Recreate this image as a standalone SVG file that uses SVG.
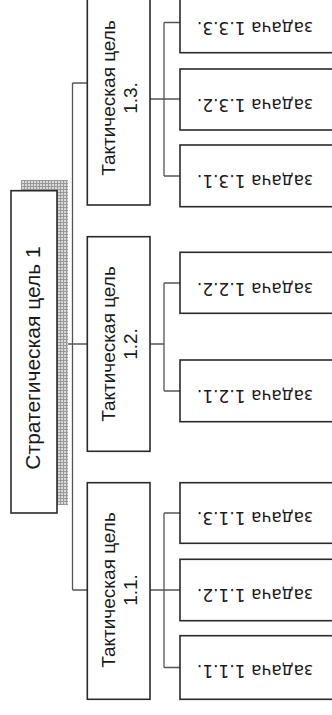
<svg xmlns="http://www.w3.org/2000/svg" width="332" height="715" viewBox="0 0 332 715">
<style>
.box{fill:#fff;stroke:#2a2a2a;stroke-width:1.6}
.con{fill:none;stroke:#555;stroke-width:1.3}
.t1{font-family:"Liberation Sans",Arial,sans-serif;fill:#1a1a1a;text-anchor:middle}
.t2{font-family:"DejaVu Sans",Verdana,sans-serif;font-size:17px;fill:#1a1a1a;text-anchor:middle}
</style>
<defs>
<pattern id="hatch" width="3" height="3" patternUnits="userSpaceOnUse">
<rect width="3" height="3" fill="#dadada"/>
<path d="M0 0.5H3M0.5 0V3" stroke="#999" stroke-width="1"/>
</pattern>
</defs>
<g id="connectors">
<path class="con" d="M57 344H87M72.5 83V590M72.5 83H87M72.5 590H87"/>
<path class="con" d="M150 99H164M164 22.5V176M164 22.5H180M164 99H180M164 176H180"/>
<path class="con" d="M150 344H164M164 283V391M164 283H180M164 391H180"/>
<path class="con" d="M150 590H180M164 513V667.5M164 513H180M164 667.5H180"/>
</g>
<g id="strategic">
<rect x="21" y="180" width="47" height="325" fill="url(#hatch)"/>
<rect class="box" x="11" y="190.7" width="46" height="322.3"/>
<text class="t1" font-size="21" transform="translate(40 358) rotate(-90)">Стратегическая цель 1</text>
</g>
<g id="tac13">
<rect class="box" x="87.3" y="-9" width="62.7" height="214"/>
<text class="t1" font-size="19" transform="translate(115 98) rotate(-90)">Тактическая цель</text>
<text class="t1" font-size="19" transform="translate(137 98) rotate(-90)">1.3.</text>
</g>
<g id="tac12">
<rect class="box" x="87.3" y="236.7" width="62.7" height="214.6"/>
<text class="t1" font-size="19" transform="translate(115 344) rotate(-90)">Тактическая цель</text>
<text class="t1" font-size="19" transform="translate(137 344) rotate(-90)">1.2.</text>
</g>
<g id="tac11">
<rect class="box" x="87.3" y="482.7" width="62.7" height="216.6"/>
<text class="t1" font-size="19" transform="translate(115 590) rotate(-90)">Тактическая цель</text>
<text class="t1" font-size="19" transform="translate(137 590) rotate(-90)">1.1.</text>
</g>
<g id="task133">
<rect class="box" x="180" y="-8" width="160" height="60.7"/>
<text class="t2" transform="translate(255 21.5) rotate(180)">задача 1.3.3.</text>
</g>
<g id="task132">
<rect class="box" x="180" y="69" width="160" height="61"/>
<text class="t2" transform="translate(255 98.5) rotate(180)">задача 1.3.2.</text>
</g>
<g id="task131">
<rect class="box" x="180" y="145" width="160" height="61.7"/>
<text class="t2" transform="translate(255 175) rotate(180)">задача 1.3.1.</text>
</g>
<g id="task122">
<rect class="box" x="180" y="252.3" width="160" height="61"/>
<text class="t2" transform="translate(255 283) rotate(180)">задача 1.2.2.</text>
</g>
<g id="task121">
<rect class="box" x="180" y="360" width="160" height="61.7"/>
<text class="t2" transform="translate(255 390) rotate(180)">задача 1.2.1.</text>
</g>
<g id="task113">
<rect class="box" x="180" y="482.7" width="160" height="60.6"/>
<text class="t2" transform="translate(255 512) rotate(180)">задача 1.1.3.</text>
</g>
<g id="task112">
<rect class="box" x="180" y="559.3" width="160" height="61.4"/>
<text class="t2" transform="translate(255 589) rotate(180)">задача 1.1.2.</text>
</g>
<g id="task111">
<rect class="box" x="180" y="635.7" width="160" height="63.6"/>
<text class="t2" transform="translate(255 665) rotate(180)">задача 1.1.1.</text>
</g>
</svg>
